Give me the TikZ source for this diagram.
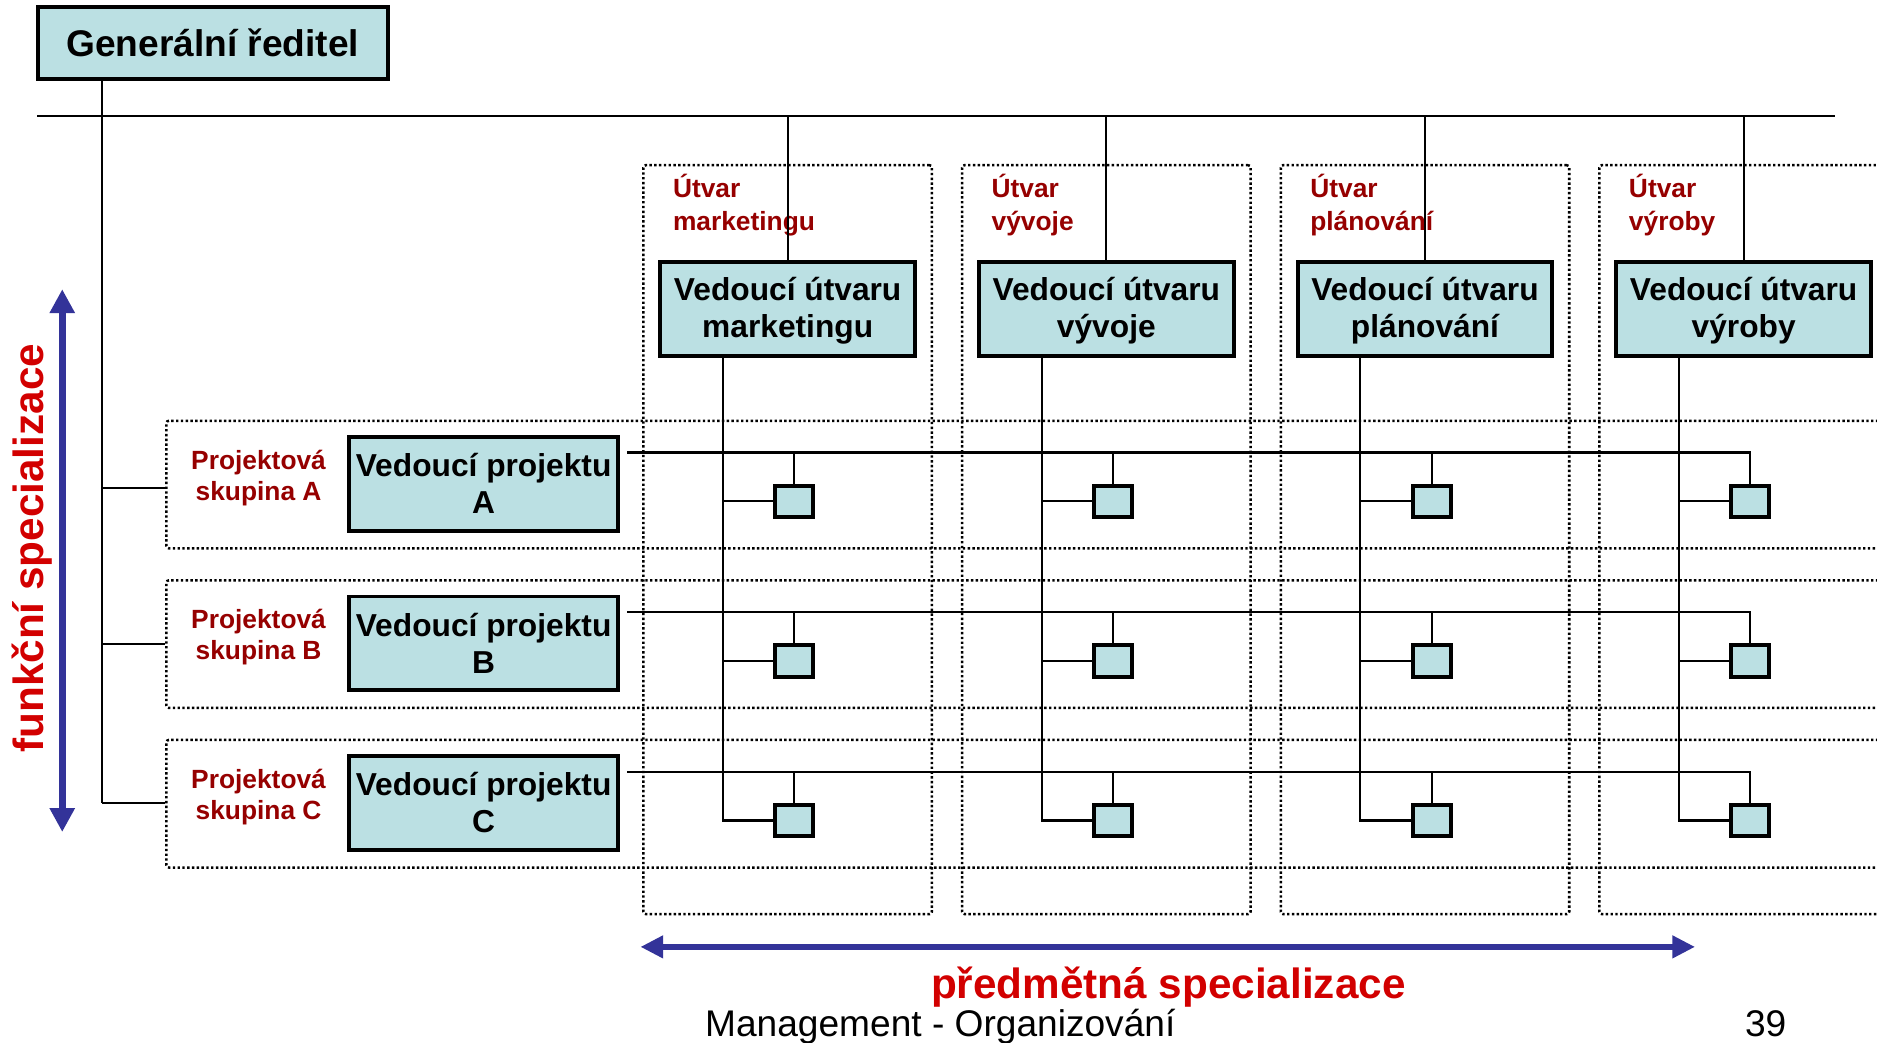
\documentclass[tikz,border=0pt]{standalone}
\usepackage{fontspec}
\setmainfont{Liberation Sans}
\usetikzlibrary{arrows.meta}
\definecolor{boxfill}{RGB}{187,224,227}
\definecolor{labred}{RGB}{150,0,0}
\definecolor{bigred}{RGB}{210,0,0}
\definecolor{arrblue}{RGB}{51,51,153}
\newcommand{\twolines}[2]{\rule{0pt}{22pt}#1\\#2\rule[-3pt]{0pt}{3pt}}
\newcommand{\twolab}[2]{\rule{0pt}{18pt}#1\\#2\rule[-5pt]{0pt}{5pt}}
\begin{document}
\begin{tikzpicture}[x=1pt,y=-1pt,
  conn/.style={line width=1.8pt},
  headbox/.style={draw, line width=3.3pt, fill=boxfill, inner sep=0pt, align=center,
    font=\bfseries\fontsize{26.5}{31}\selectfont},
  sq/.style={draw, line width=3.3pt, fill=boxfill, minimum width=31.7pt, minimum height=26.3pt, inner sep=0pt},
  dotbox/.style={draw, line width=2.1pt, dash pattern=on 2pt off 2pt, rounded corners=2pt, inner sep=0pt},
  grplab/.style={text=labred, font=\bfseries\fontsize{22}{26}\selectfont, align=center, inner sep=0pt},
  deplab/.style={text=labred, font=\bfseries\fontsize{22}{27}\selectfont, align=left, anchor=north west, inner sep=0pt},
  bigtext/.style={text=bigred, font=\bfseries\fontsize{35.3}{40}\selectfont, inner sep=0pt},
  foot/.style={font=\fontsize{31}{36}\selectfont, inner sep=0pt, anchor=base},
  blue arrow/.style={draw=arrblue}
]
\useasboundingbox (0,0) rectangle (1568,871.3);
\fill[white] (0,0) rectangle (1568,871.3);
\clip (0,0) rectangle (1568,871.3);

% general director
\node[headbox, font=\bfseries\fontsize{31}{36}\selectfont, minimum width=292.4pt, minimum height=60.3pt] (GR) at (177.8,36) {Generální ředitel};

% departments
\foreach \i/\n/\lab in {0/M/marketingu,1/V/vývoje,2/P/plánování,3/R/výroby}{
  \pgfmathsetmacro\cx{658+266.2*\i}
  \node[dotbox, minimum width=241pt, minimum height=625.6pt] (u\n) at (\cx,450.8) {};
  \node[deplab] (l\n) at (\cx-96,143) {\rule{0pt}{22pt}Útvar\\\lab};
  \node[headbox, minimum width=212.8pt, minimum height=78.8pt] (h\n) at (\cx,258) {\twolines{Vedoucí útvaru}{\lab}};
  \coordinate (v\n) at (\cx-54,258);
  \foreach \r/\y in {A/418.8,B/552.1,C/685.4}
    \node[sq] (s\n\r) at (\cx+5.5,\y) {};
}

% project groups
\foreach \r/\y in {A/404.2,B/537.5,C/670.8}{
  \node[dotbox, minimum width=1500pt, minimum height=106.6pt, anchor=west] (g\r) at (138,\y+0.6) {};
  \node[grplab] (t\r) at (216,\y-5.9) {\twolab{Projektová}{skupina \r}};
  \node[headbox, minimum width=224.8pt, minimum height=78.4pt] (p\r) at (404,\y) {\twolines{Vedoucí projektu}{\r}};
  \coordinate (r\r) at (524,\y-26.2);
}

% connectors
\coordinate (busL) at (31,97);
\coordinate (busR) at (1533,97);
\draw[conn] (busL) -- (busR);
\coordinate (jA) at (85,408);
\coordinate (jB) at (85,538);
\coordinate (jC) at (85,671);
\draw[conn] (GR.south -| jA) -- (jC);
\foreach \r in {A,B,C} \draw[conn] (j\r) -- (j\r -| g\r.west);

\foreach \n in {M,V,P,R}{
  \draw[conn] (h\n.north) -- (h\n.north |- busL);
  \draw[conn] (v\n |- h\n.south) -- (v\n |- s\n C.west) -- (s\n C.west);
  \draw[conn] (v\n |- s\n A.west) -- (s\n A.west);
  \draw[conn] (v\n |- s\n B.west) -- (s\n B.west);
}
\foreach \r in {A,B,C}{
  \draw[conn] (r\r) -- (r\r -| sR\r.north) -- (sR\r.north);
  \foreach \n in {M,V,P}
    \draw[conn] (s\n\r.north |- r\r) -- (s\n\r.north);
}

% arrows
\coordinate (fT) at (52,241.6);
\coordinate (fB) at (52,695);
\draw[blue arrow, line width=6pt, arrows={Triangle[width=20pt,length=20pt]-Triangle[width=20pt,length=20pt]}] (fT) -- (fB);
\coordinate (pL) at (535,791);
\coordinate (pR) at (1416,791);
\draw[blue arrow, line width=5.6pt, arrows={Triangle[width=18pt,length=19pt]-Triangle[width=18pt,length=19pt]}] (pL) -- (pR);

% texts
\node[bigtext, rotate=90, anchor=base] (fs) at (36,458) {funkční specializace};
\node[bigtext, anchor=base] (ps) at (976,834) {předmětná specializace};
\node[foot] (mg) at (785.5,866) {Management - Organizování};
\node[foot] (pg) at (1475,866) {39};
\end{tikzpicture}
\end{document}
